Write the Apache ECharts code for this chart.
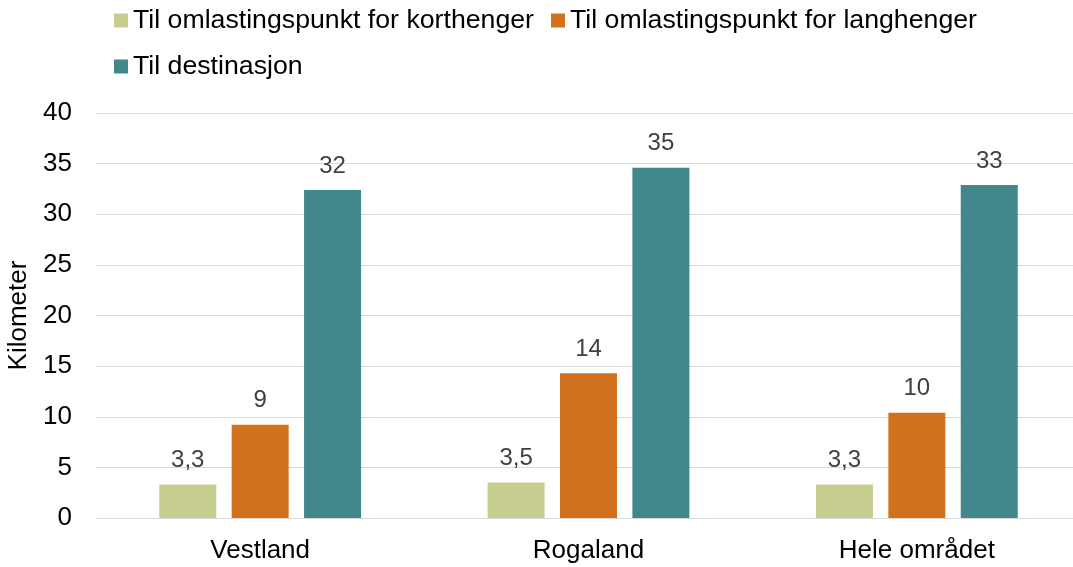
<!DOCTYPE html>
<html><head><meta charset="utf-8">
<script src="https://cdn.jsdelivr.net/npm/echarts@6/dist/echarts.min.js"></script>
<style>html,body{margin:0;padding:0;background:#fff}#c{width:1073px;height:567px}</style>
</head><body><div id="c"></div>
<script>
const categories = ['Vestland', 'Rogaland', 'Hele området'];
const seriesNames = ['Til omlastingspunkt for korthenger', 'Til omlastingspunkt for langhenger', 'Til destinasjon'];
const korthenger = [3.3, 3.5, 3.3];
const langhenger = [9.2, 14.3, 10.4];
const destinasjon = [32.4, 34.6, 32.9];
const yTicks = [0, 5, 10, 15, 20, 25, 30, 35, 40];
const colors = ['#c6cd8f', '#d3721d', '#41878b'];

const FONT = 'Liberation Sans, Arial, sans-serif';
function fmt(p) {
  const v = p.value;
  if (v < 5) return v.toFixed(1).replace('.', ',');
  return String(Math.round(v));
}
const chart = echarts.init(document.getElementById('c'), null, {renderer: 'canvas'});
const data = [korthenger, langhenger, destinasjon];
const legendBase = {left: 114, itemWidth: 14, itemHeight: 14, itemGap: 17, padding: 0,
  icon: 'rect', textStyle: {fontSize: 26.7, color: '#000', fontFamily: FONT}};
chart.setOption({
  animation: false,
  textStyle: {fontFamily: FONT},
  legend: [
    Object.assign({}, legendBase, {data: seriesNames.slice(0, 2), top: 7}),
    Object.assign({}, legendBase, {data: seriesNames.slice(2), top: 53})
  ],
  grid: {left: 96, right: -8, top: 113, bottom: 49, containLabel: false, outerBoundsMode: 'none'},
  xAxis: {
    type: 'category', data: categories,
    axisLine: {lineStyle: {color: '#d9d9d9', width: 1}},
    axisTick: {show: false},
    axisLabel: {fontSize: 26, color: '#000', margin: 20, fontFamily: FONT}
  },
  yAxis: {
    type: 'value', min: yTicks[0], max: yTicks[yTicks.length - 1], interval: 5,
    name: 'Kilometer', nameLocation: 'middle', nameGap: 57,
    nameTextStyle: {fontSize: 26, color: '#000', fontFamily: FONT},
    axisLine: {show: false}, axisTick: {show: false},
    splitLine: {lineStyle: {color: '#d9d9d9', width: 1}},
    axisLabel: {fontSize: 26, color: '#000', margin: 24, fontFamily: FONT}
  },
  series: seriesNames.map((n, i) => ({
    name: n, type: 'bar', data: data[i], barWidth: 57, barGap: '27%',
    itemStyle: {color: colors[i]},
    label: {show: true, position: 'top', distance: 12, fontSize: 24, color: '#404040', formatter: fmt, fontFamily: FONT}
  }))
});
</script></body></html>
